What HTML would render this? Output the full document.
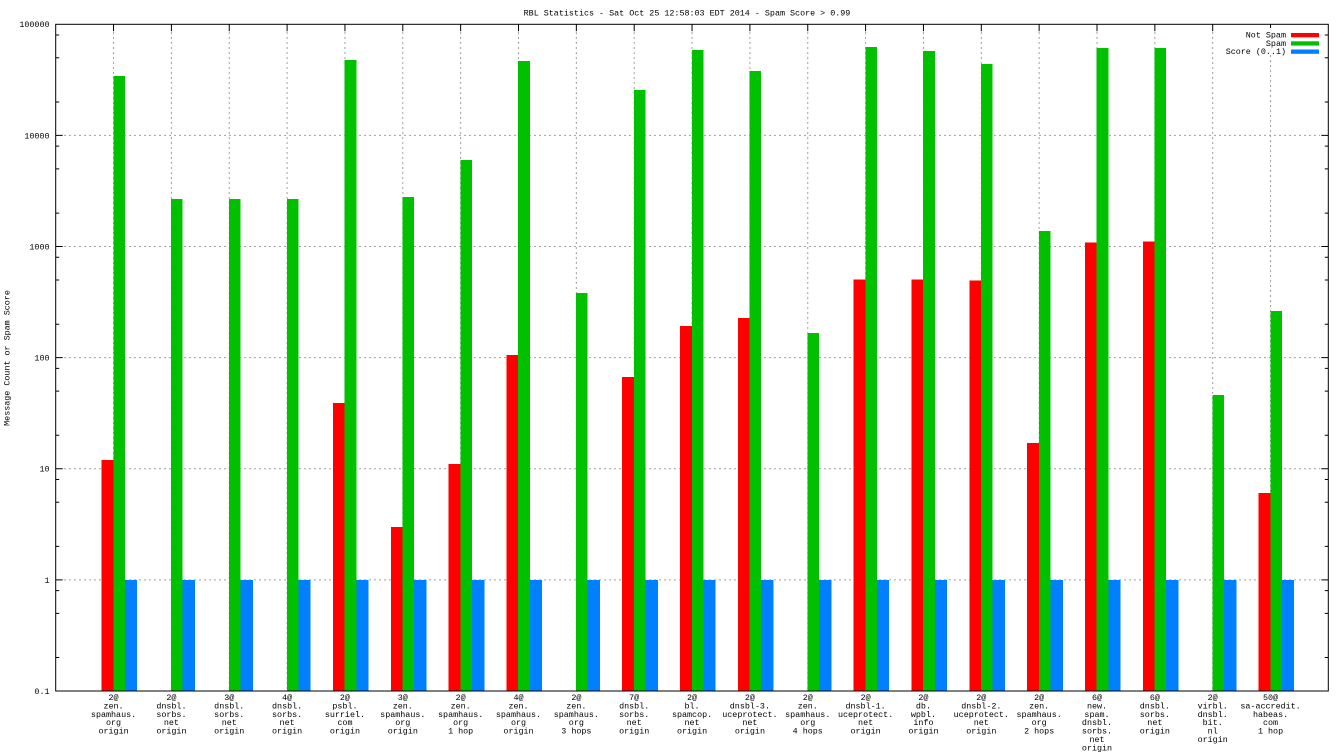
<!DOCTYPE html>
<html><head><meta charset="utf-8"><style>
html,body{margin:0;padding:0;background:#fff;}
svg{display:block;}
text{font-family:"Liberation Mono",monospace;font-size:8.4px;fill:#000;}
</style></head><body>
<svg width="1344" height="756" viewBox="0 0 1344 756" xmlns="http://www.w3.org/2000/svg">
<rect x="0" y="0" width="1344" height="756" fill="#fff"/>
<!-- grid -->
<g stroke="#a0a0a0" stroke-width="1" stroke-dasharray="2,3" fill="none">
<path d="M64 135.4H1320M64 246.5H1320M64 357.6H1320M64 468.8H1320M64 579.9H1320"/>
<path d="M113.55 32V691M171.4 32V691M229.25 32V691M287.1 32V691M344.95 32V691M402.8 32V691M460.65 32V691M518.5 32V691M576.35 32V691M634.2 32V691M692.05 32V691M749.9 32V691M807.75 32V691M865.6 32V691M923.45 32V691M981.3 32V691M1039.15 32V691M1097 32V691M1154.85 32V691M1212.7 32V691M1270.55 55V691"/>
</g>
<!-- bars -->
<g shape-rendering="crispEdges">
<g fill="#ff0000">
<rect x="101.55" y="460" width="11.7" height="231"/>
<rect x="332.95" y="403" width="11.7" height="288"/>
<rect x="390.8" y="527" width="11.7" height="164"/>
<rect x="448.65" y="464" width="11.7" height="227"/>
<rect x="506.5" y="355" width="11.7" height="336"/>
<rect x="622.2" y="377" width="11.7" height="314"/>
<rect x="680.05" y="326" width="11.7" height="365"/>
<rect x="737.9" y="318" width="11.7" height="373"/>
<rect x="853.6" y="279.7" width="11.7" height="411.3"/>
<rect x="911.45" y="279.7" width="11.7" height="411.3"/>
<rect x="969.3" y="280.7" width="11.7" height="410.3"/>
<rect x="1027.15" y="443" width="11.7" height="248"/>
<rect x="1085" y="242.7" width="11.7" height="448.3"/>
<rect x="1142.85" y="241.7" width="11.7" height="449.3"/>
<rect x="1258.55" y="493" width="11.7" height="198"/>
</g>
<g fill="#00c000">
<rect x="113.25" y="76" width="11.6" height="615"/>
<rect x="171.1" y="199" width="11.6" height="492"/>
<rect x="228.95" y="199" width="11.6" height="492"/>
<rect x="286.8" y="199" width="11.6" height="492"/>
<rect x="344.65" y="60" width="11.6" height="631"/>
<rect x="402.5" y="197" width="11.6" height="494"/>
<rect x="460.35" y="160" width="11.6" height="531"/>
<rect x="518.2" y="61" width="11.6" height="630"/>
<rect x="576.05" y="293" width="11.6" height="398"/>
<rect x="633.9" y="90" width="11.6" height="601"/>
<rect x="691.75" y="50" width="11.6" height="641"/>
<rect x="749.6" y="71" width="11.6" height="620"/>
<rect x="807.45" y="333" width="11.6" height="358"/>
<rect x="865.3" y="47" width="11.6" height="644"/>
<rect x="923.15" y="51" width="11.6" height="640"/>
<rect x="981" y="64" width="11.6" height="627"/>
<rect x="1038.85" y="231" width="11.6" height="460"/>
<rect x="1096.7" y="48" width="11.6" height="643"/>
<rect x="1154.55" y="48" width="11.6" height="643"/>
<rect x="1212.4" y="395" width="11.6" height="296"/>
<rect x="1270.25" y="311" width="11.6" height="380"/>
</g>
<g fill="#0080ff">
<rect x="124.85" y="580" width="12.3" height="111"/>
<rect x="182.7" y="580" width="12.3" height="111"/>
<rect x="240.55" y="580" width="12.3" height="111"/>
<rect x="298.4" y="580" width="12.3" height="111"/>
<rect x="356.25" y="580" width="12.3" height="111"/>
<rect x="414.1" y="580" width="12.3" height="111"/>
<rect x="471.95" y="580" width="12.3" height="111"/>
<rect x="529.8" y="580" width="12.3" height="111"/>
<rect x="587.65" y="580" width="12.3" height="111"/>
<rect x="645.5" y="580" width="12.3" height="111"/>
<rect x="703.35" y="580" width="12.3" height="111"/>
<rect x="761.2" y="580" width="12.3" height="111"/>
<rect x="819.05" y="580" width="12.3" height="111"/>
<rect x="876.9" y="580" width="12.3" height="111"/>
<rect x="934.75" y="580" width="12.3" height="111"/>
<rect x="992.6" y="580" width="12.3" height="111"/>
<rect x="1050.45" y="580" width="12.3" height="111"/>
<rect x="1108.3" y="580" width="12.3" height="111"/>
<rect x="1166.15" y="580" width="12.3" height="111"/>
<rect x="1224" y="580" width="12.3" height="111"/>
<rect x="1281.85" y="580" width="12.3" height="111"/>
</g>
</g>
<!-- border & ticks -->
<g stroke="#000" stroke-width="1" fill="none">
<rect x="55.7" y="24.3" width="1272.6" height="666.7"/>
<path d="M55.7 135.4h7M55.7 246.5h7M55.7 357.6h7M55.7 468.8h7M55.7 579.9h7
M1328.3 135.4h-7M1328.3 246.5h-7M1328.3 357.6h-7M1328.3 468.8h-7M1328.3 579.9h-7"/>
<path d="M55.7 657.55h3.5M55.7 613.33h3.5M55.7 590.65h3.5M55.7 546.43h3.5M55.7 502.21h3.5M55.7 479.53h3.5M55.7 435.31h3.5M55.7 391.09h3.5M55.7 368.41h3.5M55.7 324.19h3.5M55.7 279.97h3.5M55.7 257.29h3.5M55.7 213.07h3.5M55.7 168.85h3.5M55.7 146.17h3.5M55.7 101.95h3.5M55.7 57.73h3.5M55.7 35.05h3.5
M1328.3 657.55h-3.5M1328.3 613.33h-3.5M1328.3 590.65h-3.5M1328.3 546.43h-3.5M1328.3 502.21h-3.5M1328.3 479.53h-3.5M1328.3 435.31h-3.5M1328.3 391.09h-3.5M1328.3 368.41h-3.5M1328.3 324.19h-3.5M1328.3 279.97h-3.5M1328.3 257.29h-3.5M1328.3 213.07h-3.5M1328.3 168.85h-3.5M1328.3 146.17h-3.5M1328.3 101.95h-3.5M1328.3 57.73h-3.5M1328.3 35.05h-3.5"/>
<path d="M113.55 24.3v7M171.4 24.3v7M229.25 24.3v7M287.1 24.3v7M344.95 24.3v7M402.8 24.3v7M460.65 24.3v7M518.5 24.3v7M576.35 24.3v7M634.2 24.3v7M692.05 24.3v7M749.9 24.3v7M807.75 24.3v7M865.6 24.3v7M923.45 24.3v7M981.3 24.3v7M1039.15 24.3v7M1097 24.3v7M1154.85 24.3v7M1212.7 24.3v7M1270.55 24.3v7"/>
</g>
<!-- title -->
<text x="687" y="15.5" text-anchor="middle">RBL Statistics - Sat Oct 25 12:58:03 EDT 2014 - Spam Score &gt; 0.99</text>
<!-- y label -->
<text transform="translate(9.3,358) rotate(-90)" text-anchor="middle">Message Count or Spam Score</text>
<!-- y tick labels -->
<g text-anchor="end">
<text x="49.5" y="27.2">100000</text>
<text x="49.5" y="138.3">10000</text>
<text x="49.5" y="249.4">1000</text>
<text x="49.5" y="360.5">100</text>
<text x="49.5" y="471.7">10</text>
<text x="49.5" y="582.8">1</text>
<text x="49.5" y="693.9">0.1</text>
</g>
<!-- legend -->
<rect x="1222" y="28" width="102" height="27" fill="#fff"/>
<g text-anchor="end">
<text x="1286" y="37.5">Not Spam</text>
<text x="1286" y="45.8">Spam</text>
<text x="1286" y="54">Score (0..1)</text>
</g>
<rect x="1291" y="33" width="28" height="4.3" fill="#ff0000"/>
<rect x="1291" y="41.3" width="28" height="4.3" fill="#00c000"/>
<rect x="1291" y="49.5" width="28" height="4.3" fill="#0080ff"/>
<!-- x labels -->
<g text-anchor="middle">
<text x="113.55" y="700"><tspan x="113.55">2@</tspan><tspan x="113.55" dy="8.4">zen.</tspan><tspan x="113.55" dy="8.4">spamhaus.</tspan><tspan x="113.55" dy="8.4">org</tspan><tspan x="113.55" dy="8.4">origin</tspan></text>
<text x="171.4" y="700"><tspan x="171.4">2@</tspan><tspan x="171.4" dy="8.4">dnsbl.</tspan><tspan x="171.4" dy="8.4">sorbs.</tspan><tspan x="171.4" dy="8.4">net</tspan><tspan x="171.4" dy="8.4">origin</tspan></text>
<text x="229.25" y="700"><tspan x="229.25">3@</tspan><tspan x="229.25" dy="8.4">dnsbl.</tspan><tspan x="229.25" dy="8.4">sorbs.</tspan><tspan x="229.25" dy="8.4">net</tspan><tspan x="229.25" dy="8.4">origin</tspan></text>
<text x="287.1" y="700"><tspan x="287.1">4@</tspan><tspan x="287.1" dy="8.4">dnsbl.</tspan><tspan x="287.1" dy="8.4">sorbs.</tspan><tspan x="287.1" dy="8.4">net</tspan><tspan x="287.1" dy="8.4">origin</tspan></text>
<text x="344.95" y="700"><tspan x="344.95">2@</tspan><tspan x="344.95" dy="8.4">psbl.</tspan><tspan x="344.95" dy="8.4">surriel.</tspan><tspan x="344.95" dy="8.4">com</tspan><tspan x="344.95" dy="8.4">origin</tspan></text>
<text x="402.8" y="700"><tspan x="402.8">3@</tspan><tspan x="402.8" dy="8.4">zen.</tspan><tspan x="402.8" dy="8.4">spamhaus.</tspan><tspan x="402.8" dy="8.4">org</tspan><tspan x="402.8" dy="8.4">origin</tspan></text>
<text x="460.65" y="700"><tspan x="460.65">2@</tspan><tspan x="460.65" dy="8.4">zen.</tspan><tspan x="460.65" dy="8.4">spamhaus.</tspan><tspan x="460.65" dy="8.4">org</tspan><tspan x="460.65" dy="8.4">1 hop</tspan></text>
<text x="518.5" y="700"><tspan x="518.5">4@</tspan><tspan x="518.5" dy="8.4">zen.</tspan><tspan x="518.5" dy="8.4">spamhaus.</tspan><tspan x="518.5" dy="8.4">org</tspan><tspan x="518.5" dy="8.4">origin</tspan></text>
<text x="576.35" y="700"><tspan x="576.35">2@</tspan><tspan x="576.35" dy="8.4">zen.</tspan><tspan x="576.35" dy="8.4">spamhaus.</tspan><tspan x="576.35" dy="8.4">org</tspan><tspan x="576.35" dy="8.4">3 hops</tspan></text>
<text x="634.2" y="700"><tspan x="634.2">7@</tspan><tspan x="634.2" dy="8.4">dnsbl.</tspan><tspan x="634.2" dy="8.4">sorbs.</tspan><tspan x="634.2" dy="8.4">net</tspan><tspan x="634.2" dy="8.4">origin</tspan></text>
<text x="692.05" y="700"><tspan x="692.05">2@</tspan><tspan x="692.05" dy="8.4">bl.</tspan><tspan x="692.05" dy="8.4">spamcop.</tspan><tspan x="692.05" dy="8.4">net</tspan><tspan x="692.05" dy="8.4">origin</tspan></text>
<text x="749.9" y="700"><tspan x="749.9">2@</tspan><tspan x="749.9" dy="8.4">dnsbl-3.</tspan><tspan x="749.9" dy="8.4">uceprotect.</tspan><tspan x="749.9" dy="8.4">net</tspan><tspan x="749.9" dy="8.4">origin</tspan></text>
<text x="807.75" y="700"><tspan x="807.75">2@</tspan><tspan x="807.75" dy="8.4">zen.</tspan><tspan x="807.75" dy="8.4">spamhaus.</tspan><tspan x="807.75" dy="8.4">org</tspan><tspan x="807.75" dy="8.4">4 hops</tspan></text>
<text x="865.6" y="700"><tspan x="865.6">2@</tspan><tspan x="865.6" dy="8.4">dnsbl-1.</tspan><tspan x="865.6" dy="8.4">uceprotect.</tspan><tspan x="865.6" dy="8.4">net</tspan><tspan x="865.6" dy="8.4">origin</tspan></text>
<text x="923.45" y="700"><tspan x="923.45">2@</tspan><tspan x="923.45" dy="8.4">db.</tspan><tspan x="923.45" dy="8.4">wpbl.</tspan><tspan x="923.45" dy="8.4">info</tspan><tspan x="923.45" dy="8.4">origin</tspan></text>
<text x="981.3" y="700"><tspan x="981.3">2@</tspan><tspan x="981.3" dy="8.4">dnsbl-2.</tspan><tspan x="981.3" dy="8.4">uceprotect.</tspan><tspan x="981.3" dy="8.4">net</tspan><tspan x="981.3" dy="8.4">origin</tspan></text>
<text x="1039.15" y="700"><tspan x="1039.15">2@</tspan><tspan x="1039.15" dy="8.4">zen.</tspan><tspan x="1039.15" dy="8.4">spamhaus.</tspan><tspan x="1039.15" dy="8.4">org</tspan><tspan x="1039.15" dy="8.4">2 hops</tspan></text>
<text x="1097" y="700"><tspan x="1097">6@</tspan><tspan x="1097" dy="8.4">new.</tspan><tspan x="1097" dy="8.4">spam.</tspan><tspan x="1097" dy="8.4">dnsbl.</tspan><tspan x="1097" dy="8.4">sorbs.</tspan><tspan x="1097" dy="8.4">net</tspan><tspan x="1097" dy="8.4">origin</tspan></text>
<text x="1154.85" y="700"><tspan x="1154.85">6@</tspan><tspan x="1154.85" dy="8.4">dnsbl.</tspan><tspan x="1154.85" dy="8.4">sorbs.</tspan><tspan x="1154.85" dy="8.4">net</tspan><tspan x="1154.85" dy="8.4">origin</tspan></text>
<text x="1212.7" y="700"><tspan x="1212.7">2@</tspan><tspan x="1212.7" dy="8.4">virbl.</tspan><tspan x="1212.7" dy="8.4">dnsbl.</tspan><tspan x="1212.7" dy="8.4">bit.</tspan><tspan x="1212.7" dy="8.4">nl</tspan><tspan x="1212.7" dy="8.4">origin</tspan></text>
<text x="1270.55" y="700"><tspan x="1270.55">50@</tspan><tspan x="1270.55" dy="8.4">sa-accredit.</tspan><tspan x="1270.55" dy="8.4">habeas.</tspan><tspan x="1270.55" dy="8.4">com</tspan><tspan x="1270.55" dy="8.4">1 hop</tspan></text>
</g>
</svg>
</body></html>
